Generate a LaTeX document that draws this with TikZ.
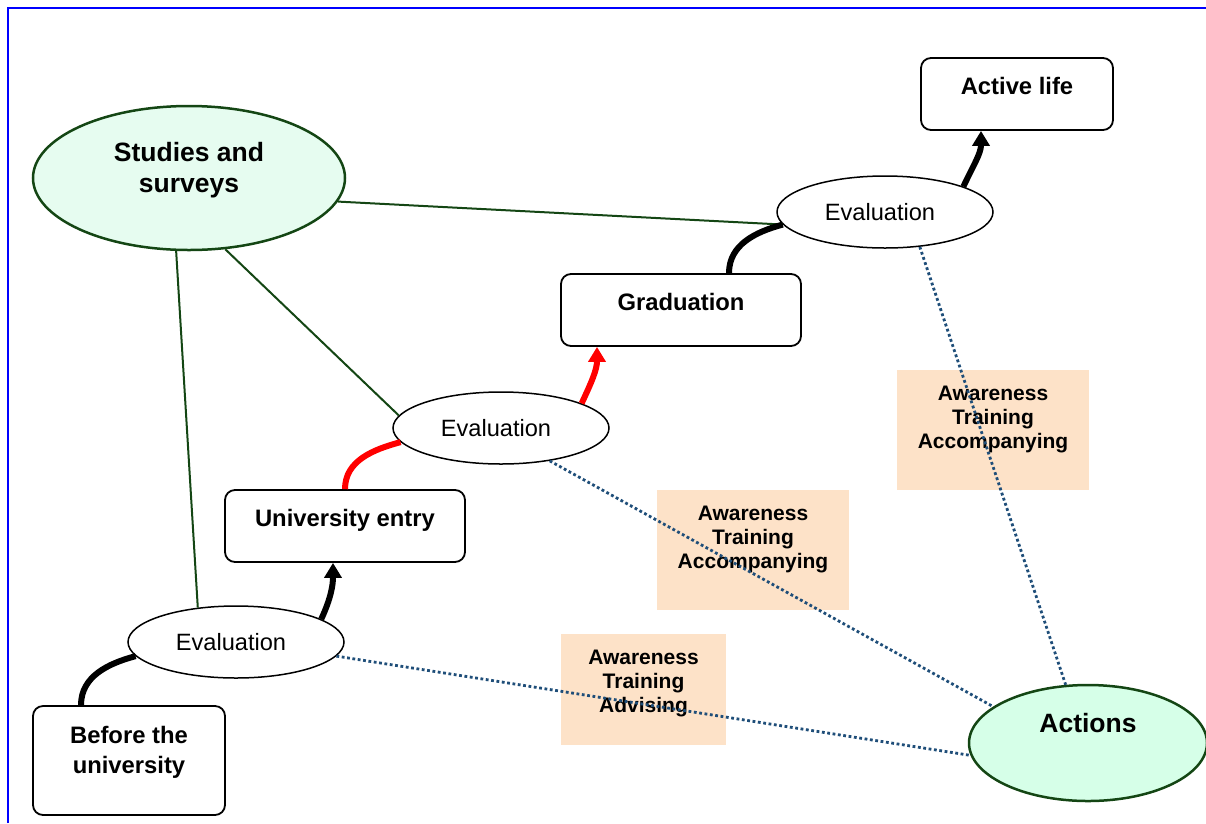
\documentclass[tikz,border=0pt]{standalone}
\usepackage{fontspec}
\setmainfont{Liberation Sans}
\usepackage{tikz}
\usetikzlibrary{shapes.geometric, arrows.meta}
\definecolor{mygreen}{RGB}{20,70,20}
\definecolor{mymint}{RGB}{230,252,240}
\definecolor{mymint2}{RGB}{214,255,232}
\definecolor{mynavy}{RGB}{31,78,121}
\definecolor{mypeach}{RGB}{253,226,200}
\tikzset{
	stage/.style={
		draw,
		rounded corners=10pt,
		line width=1.8pt,
		inner sep=0pt,
		align=center,
		font=\fontsize{23.8}{30}\selectfont\bfseries
	},
	evalnode/.style={
		draw,
		ellipse,
		line width=1.5pt,
		inner sep=0pt,
		minimum width=216pt,
		minimum height=72pt,
		font=\fontsize{23.6}{28}\selectfont
	},
	hub/.style={
		draw=mygreen,
		ellipse,
		line width=2.5pt,
		inner sep=0pt,
		align=center,
		font=\fontsize{26.5}{31}\selectfont\bfseries
	},
	actionbox/.style={
		fill=mypeach,
		inner sep=0pt,
		align=center,
		font=\fontsize{21}{24}\selectfont\bfseries
	}
}

\begin{document}
\begin{tikzpicture}[x=1pt, y=-1pt]
	\tikzset{flow/.style={line width=6pt}}
	\tikzset{tip/.style={-{Triangle[width=17pt, length=15pt]}}}
	\tikzset{link/.style={mygreen, line width=2pt}}
	\tikzset{dots/.style={mynavy, line width=2.8pt, dash pattern=on 2.8pt off 2.6pt}}
	
	\useasboundingbox (0,0) rectangle (1206,823);
	\draw[blue, line width=2.5pt] (8,823) |- (1206,8);
	
	\node(studies) at (189,178) [hub, fill=mymint, minimum width=312pt, minimum height=144pt, text depth=22pt] {Studies and\\surveys};
	\node(actions) at (1088,743) [hub, fill=mymint2, minimum width=238pt, minimum height=116pt, text depth=40pt] {Actions};
	
	\node(before) at (129,760.5) [stage, minimum width=192pt, minimum height=109pt, text depth=21pt] {Before the\\university};
	\node(univ) at (345,526) [stage, minimum width=240pt, minimum height=72pt, text depth=16pt] {University entry};
	\node(grad) at (681,310) [stage, minimum width=240pt, minimum height=72pt, text depth=16pt] {Graduation};
	\node(active) at (1017,94) [stage, minimum width=192pt, minimum height=72pt, text depth=16pt] {Active life};
	
	\node(ev1) at (236,642) [evalnode] {Evaluation\hspace*{10pt}};
	\node(ev2) at (501,428) [evalnode] {Evaluation\hspace*{10pt}};
	\node(ev3) at (885,212) [evalnode] {Evaluation\hspace*{10pt}};
	
	\node(act1) at (643.5,689.5) [actionbox, minimum width=165pt, minimum height=111pt, text depth=17pt] {Awareness\\Training\\Advising};
	\node(act2) at (753,550) [actionbox, minimum width=192pt, minimum height=120pt, text depth=26pt] {Awareness\\Training\\Accompanying};
	\node(act3) at (993,430) [actionbox, minimum width=192pt, minimum height=120pt, text depth=26pt] {Awareness\\Training\\Accompanying};
	
	% studies and surveys
	\draw[link] (studies.351) -- (ev3.187);
	\draw[link] (studies.297) -- (ev2.173);
	\draw[link] (studies.260) -- (ev1.138);
	
	% actions
	\draw[dots] (ev3.315) -- (actions.111);
	\draw[dots] (ev2.326) -- (actions.159);
	\draw[dots] (ev1.352) -- (actions.186);
	
	% path through the university
	\draw[flow] ([xshift=-48pt]before.north) to[out=90, in=195] (ev1.188);
	\draw[flow, tip] (ev1.15) to[out=65, in=-90] ([xshift=-12pt]univ.south);
	\draw[flow, red] (univ.north) to[out=90, in=195] (ev2.188);
	\draw[flow, red, tip] (ev2.17) to[out=65, in=-90] ([xshift=-84pt]grad.south);
	\draw[flow] ([xshift=48pt]grad.north) to[out=90, in=195] (ev3.187);
	\draw[flow, tip] (ev3.18) to[out=65, in=-90] ([xshift=-36pt]active.south);
	
\end{tikzpicture}
\end{document}
